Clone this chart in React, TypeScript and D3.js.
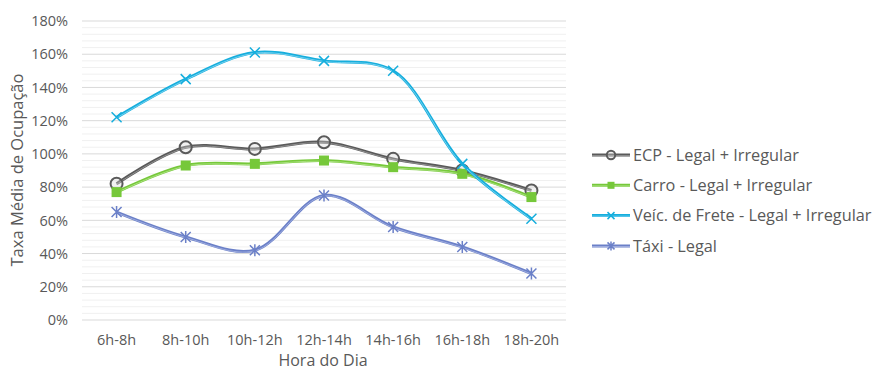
import React from "react";
import * as d3 from "d3";

const categories = ["6h-8h", "8h-10h", "10h-12h", "12h-14h", "14h-16h", "16h-18h", "18h-20h"];
const ecp = [82, 104, 103, 107, 97, 90, 78];
const carro = [77, 93, 94, 96, 92, 88, 74];
const frete = [122, 145, 161, 156, 150, 94, 61];
const taxi = [65, 50, 42, 75, 56, 44, 28];
const yTicks = [0, 20, 40, 60, 80, 100, 120, 140, 160, 180];
const seriesNames = ["ECP - Legal + Irregular", "Carro - Legal + Irregular", "Veíc. de Frete - Legal + Irregular", "Táxi - Legal"];

const W = 875, H = 373;
const L = 82, R = 566, T = 21, B = 320;
const FONT = "'Open Sans', 'DejaVu Sans', sans-serif";
const TXT = "#595959";

type Ser = { name: string; values: number[]; color: string; light: string; marker: string };
const series: Ser[] = [
  { name: seriesNames[0], values: ecp, color: "#5a5a5a", light: "#a0a0a0", marker: "circle" },
  { name: seriesNames[1], values: carro, color: "#76c83a", light: "#b5e68f", marker: "square" },
  { name: seriesNames[2], values: frete, color: "#16aedd", light: "#8ad8f2", marker: "x" },
  { name: seriesNames[3], values: taxi, color: "#6b80c8", light: "#a9b6e3", marker: "star" },
];

function Marker({ m, x, y, s, k = 1 }: { m: string; x: number; y: number; s: Ser; k?: number }) {
  if (m === "circle")
    return <circle cx={x} cy={y} r={6 * k} fill="#d9d9d9" fillOpacity={0.35} stroke={s.color} strokeWidth={2} />;
  if (m === "square") return <rect x={x - 5 * k} y={y - 5 * k} width={10 * k} height={10 * k} fill={s.color} />;
  const a = 5 * k;
  if (m === "x")
    return (
      <path d={`M${x - a},${y - a}L${x + a},${y + a}M${x - a},${y + a}L${x + a},${y - a}`} stroke={s.color} strokeWidth={1.5} />
    );
  return (
    <path
      d={`M${x - a},${y - a}L${x + a},${y + a}M${x - a},${y + a}L${x + a},${y - a}M${x},${y - a - 1}L${x},${y + a + 1}`}
      stroke={s.color}
      strokeWidth={1.5}
    />
  );
}

export default function App() {
  const x = d3.scaleBand<string>().domain(categories).range([L, R]);
  const y = d3.scaleLinear().domain([0, 180]).range([B, T]);
  const line = d3
    .line<number>()
    .x((_, i) => (x(categories[i]) as number) + x.bandwidth() / 2)
    .y((d) => y(d))
    .curve(d3.curveCatmullRom.alpha(0.5));
  const minor = d3.range(0, 181, 4).filter((v) => v % 20 !== 0);
  return (
    <svg width={W} height={H} style={{ position: "absolute", left: 0, top: 0 }} fontFamily={FONT}>
      <rect width={W} height={H} fill="#fff" />
      {minor.map((v) => (
        <line key={"m" + v} x1={L} x2={R} y1={y(v)} y2={y(v)} stroke="#f0f0f0" strokeWidth={1} />
      ))}
      {yTicks.map((v) => (
        <g key={v}>
          <line x1={L} x2={R} y1={y(v)} y2={y(v)} stroke="#d9d9d9" strokeWidth={1} />
          <text x={68} y={y(v)} dy="0.36em" textAnchor="end" fontSize={14.5} fill={TXT}>
            {v}%
          </text>
        </g>
      ))}
      {categories.map((c) => (
        <text key={c} x={(x(c) as number) + x.bandwidth() / 2} y={345} textAnchor="middle" fontSize={14.5} fill={TXT}>
          {c}
        </text>
      ))}
      <text x={323} y={366} textAnchor="middle" fontSize={16} fill={TXT}>
        Hora do Dia
      </text>
      <text transform={`translate(23,170) rotate(-90)`} textAnchor="middle" fontSize={16.5} fill={TXT}>
        Taxa Média de Ocupação
      </text>
      {series.map((s) => (
        <g key={s.name}>
          <path d={line(s.values) || ""} fill="none" stroke={s.color} strokeWidth={3} />
          <path d={line(s.values) || ""} fill="none" stroke={s.light} strokeWidth={0.8} transform="translate(0,0.6)" />
          {s.values.map((v, i) => (
            <Marker key={i} m={s.marker} s={s} x={(x(categories[i]) as number) + x.bandwidth() / 2} y={y(v)} />
          ))}
        </g>
      ))}
      {series.map((s, i) => {
        const ly = 155 + i * 30.3;
        return (
          <g key={"lg" + i}>
            <line x1={592} x2={630} y1={ly} y2={ly} stroke={s.color} strokeWidth={3} />
            <line x1={592} x2={630} y1={ly + 0.6} y2={ly + 0.6} stroke={s.light} strokeWidth={0.8} />
            <Marker m={s.marker} s={s} x={611} y={ly} k={0.7} />
            <text x={633} y={ly} dy="0.36em" fontSize={16.3} fill={TXT}>
              {s.name}
            </text>
          </g>
        );
      })}
    </svg>
  );
}
